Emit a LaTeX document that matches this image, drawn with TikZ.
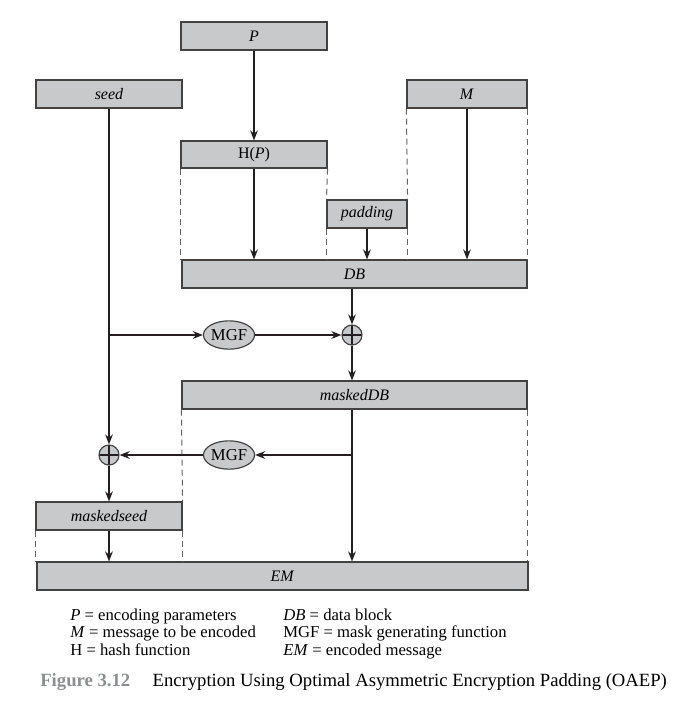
\documentclass[tikz,border=0pt]{standalone}
\usepackage{fontspec}
\setmainfont{Liberation Serif}
\usetikzlibrary{arrows.meta,shapes.geometric}
\definecolor{boxgray}{HTML}{C8C9CB}
\definecolor{inkline}{HTML}{231F20}
\definecolor{capgray}{HTML}{8C8E90}
\tikzset{
  blk/.style={draw=inkline!85,line width=0.7pt,fill=boxgray,inner sep=0pt,minimum height=16.8pt,font=\fontsize{9.6}{11}\selectfont},
  mgf/.style={ellipse,draw=inkline!85,line width=0.7pt,fill=boxgray,inner sep=0pt,minimum width=28.8pt,minimum height=17pt,font=\fontsize{10}{12}\selectfont},
  xorop/.style={circle,draw=inkline!85,line width=0.7pt,fill=boxgray,inner sep=0pt,minimum size=12pt,
    path picture={\draw[inkline,line width=0.7pt] (path picture bounding box.north)--(path picture bounding box.south)
      (path picture bounding box.west)--(path picture bounding box.east);}},
  flow/.style={draw=inkline,line width=1pt,-{Stealth[length=6pt,width=4.6pt]}},
  guide/.style={draw=inkline!70,line width=0.6pt,dash pattern=on 3.6pt off 2.4pt},
  legend/.style={anchor=base west,inner sep=0pt,font=\fontsize{10}{12}\selectfont}
}
\begin{document}
\begin{tikzpicture}[x=0.6pt,y=-0.6pt]
\useasboundingbox (0,0) rectangle (697,709);
\node[blk,minimum width=87.6pt] (P) at (254,36) {\textit{P}};
\node[blk,minimum width=87.6pt] (seed) at (109,94) {\textit{seed}};
\node[blk,minimum width=72pt] (M) at (467,94) {\textit{M}};
\node[blk,minimum width=87.6pt,minimum height=16.2pt] (HP) at (254,154.5) {H(\textit{P})};
\node[blk,minimum width=48pt] (pad) at (367,214) {\textit{padding}};
\node[blk,minimum width=207pt] (DB) at (354.5,274) {\textit{DB}};
\node[mgf] (mgfa) at (229,335) {MGF};
\node[xorop] (xora) at (352,335) {};
\node[blk,minimum width=207pt] (mDB) at (354.5,395) {\textit{maskedDB}};
\node[mgf] (mgfb) at (229,455) {MGF};
\node[xorop] (xorb) at (109,455) {};
\node[blk,minimum width=87.6pt] (mseed) at (109,516) {\textit{maskedseed}};
\node[blk,minimum width=294.6pt] (EM) at (282.5,576) {\textit{EM}};
\draw[guide] (HP.south west) -- (HP.south west |- DB.north);
\draw[guide] (HP.south east) -- (pad.north west);
\draw[guide] (pad.south west) -- (pad.south west |- DB.north);
\draw[guide] (M.south west) -- (pad.north east);
\draw[guide] (pad.south east) -- (pad.south east |- DB.north);
\draw[guide] (M.south east) -- (M.south east |- DB.north);
\draw[guide] (mDB.south west) -- (mseed.north east);
\draw[guide] (mseed.south east) -- (mseed.south east |- EM.north);
\draw[guide] (mseed.south west) -- (mseed.south west |- EM.north);
\draw[guide] (mDB.south east) -- (mDB.south east |- EM.north);
\draw[flow] (P.south) -- (HP.north);
\draw[flow] (HP.south) -- (HP.south |- DB.north);
\draw[flow] (pad.south) -- (pad.south |- DB.north);
\draw[flow] (M.south) -- (M.south |- DB.north);
\draw[flow] (DB.south -| xora) -- (xora.north);
\draw[flow] (seed.south) -- (xorb.north);
\draw[flow] (seed.south |- mgfa) -- (mgfa.west);
\draw[flow] (mgfa.east) -- (xora.west);
\draw[flow] (xora.south) -- (xora |- mDB.north);
\draw[flow] (mDB.south -| xora) -- (xora |- EM.north);
\draw[flow] (xora |- mgfb) -- (mgfb.east);
\draw[flow] (mgfb.west) -- (xorb.east);
\draw[flow] (xorb.south) -- (mseed.north);
\draw[flow] (mseed.south) -- (mseed.south |- EM.north);
\node[legend] (lp) at (70,620) {\textit{P} = encoding parameters};
\node[legend] (lm) at (70,637.5) {\textit{M} = message to be encoded};
\node[legend] (lh) at (70,655) {H = hash function};
\node[legend] (ldb) at (283,620) {\textit{DB} = data block};
\node[legend] (lmgf) at (283,637.5) {MGF = mask generating function};
\node[legend] (lem) at (283,655) {\textit{EM} = encoded message};
\node[legend,font=\fontsize{11.2}{13}\selectfont] (cap) at (40,686)
  {\textcolor{capgray}{\textbf{Figure 3.12}}\hspace{1.2em}Encryption Using Optimal Asymmetric Encryption Padding (OAEP)};
\end{tikzpicture}
\end{document}
